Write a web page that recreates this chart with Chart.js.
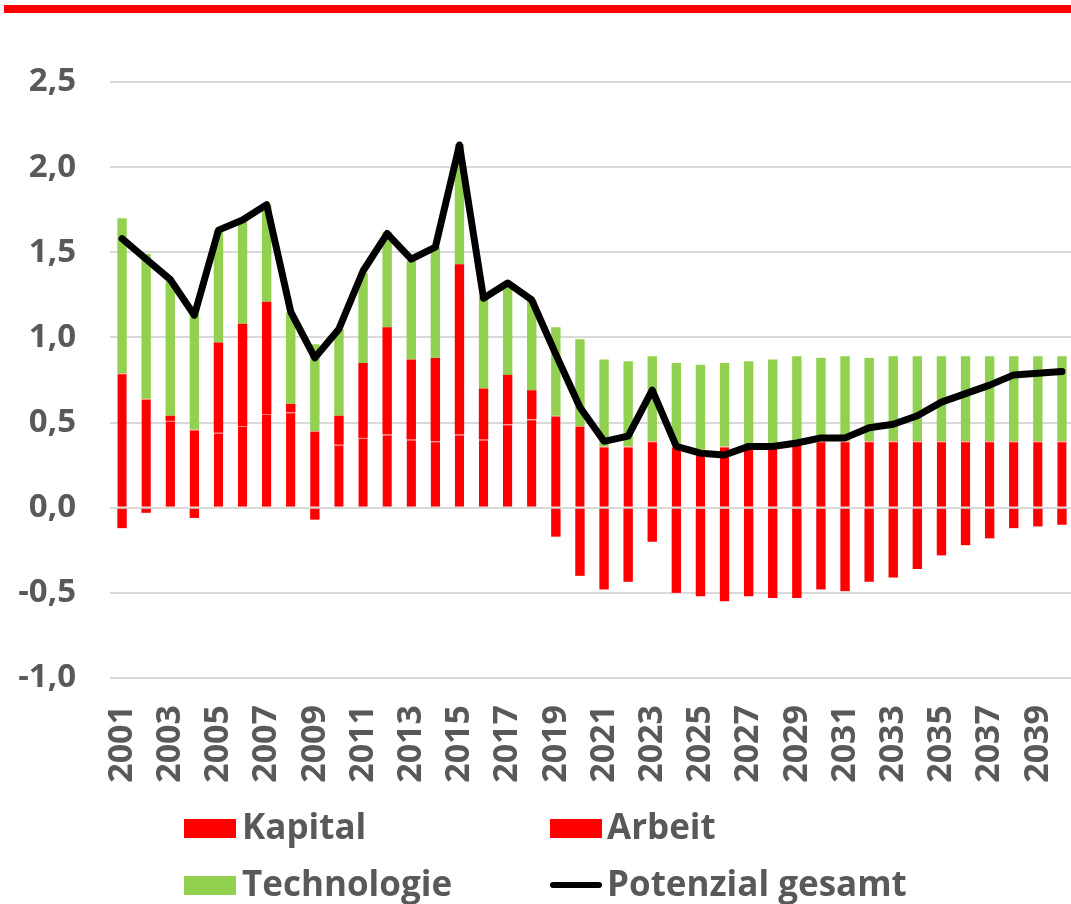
<!DOCTYPE html>
<html>
<head>
<meta charset="utf-8">
<script src="https://cdn.jsdelivr.net/npm/chart.js@4/dist/chart.umd.min.js"></script>
<style>
  html, body { margin: 0; padding: 0; background: #fff; overflow: hidden; width: 1071px; height: 904px; }
  #wrap { position: relative; width: 1071px; height: 904px; overflow: hidden; }
  #topbar { position: absolute; left: 4px; top: 5px; width: 1067px; height: 8px; background: #ff0000; }
  #chartbox { position: absolute; left: 0; top: 0; width: 1077px; height: 904px; }
  .lg { position: absolute; font-family: 'Open Sans', sans-serif; font-weight: bold; font-size: 35px; color: #595959; line-height: 1; white-space: nowrap; }
  .box { position: absolute; width: 52px; height: 19px; }
  .ln { position: absolute; width: 52px; height: 6px; background: #000; border-radius: 3px; }
</style>
</head>
<body>
<div id="wrap">
  <div id="topbar"></div>
  <div id="chartbox"><canvas id="c" width="1077" height="904"></canvas></div>
  <div class="box" style="left:184px; top:819px; background:#ff0000;"></div>
  <div class="lg" style="left:242px; top:808px;">Kapital</div>
  <div class="box" style="left:550px; top:819px; background:#ff0000;"></div>
  <div class="lg" style="left:607px; top:808px;">Arbeit</div>
  <div class="box" style="left:184px; top:876px; background:#92d050;"></div>
  <div class="lg" style="left:242px; top:865px;">Technologie</div>
  <div class="ln" style="left:550px; top:882px;"></div>
  <div class="lg" style="left:607px; top:865px;">Potenzial gesamt</div>
</div>
<script>
const years = ["2001","2002","2003","2004","2005","2006","2007","2008","2009","2010",
               "2011","2012","2013","2014","2015","2016","2017","2018","2019","2020",
               "2021","2022","2023","2024","2025","2026","2027","2028","2029","2030",
               "2031","2032","2033","2034","2035","2036","2037","2038","2039","2040"];

const kapital = [0.79, 0.64, 0.51, 0.46, 0.44, 0.48, 0.55, 0.56, 0.45, 0.37,
                 0.41, 0.43, 0.40, 0.39, 0.43, 0.40, 0.49, 0.52, 0.54, 0.48,
                 0.36, 0.36, 0.39, 0.36, 0.34, 0.36, 0.36, 0.37, 0.38, 0.39,
                 0.39, 0.39, 0.39, 0.39, 0.39, 0.39, 0.39, 0.39, 0.39, 0.39];

const arbeit = [-0.12, -0.03, 0.03, -0.06, 0.53, 0.60, 0.66, 0.05, -0.07, 0.17,
                0.44, 0.63, 0.47, 0.49, 1.00, 0.30, 0.29, 0.17, -0.17, -0.40,
                -0.48, -0.435, -0.20, -0.50, -0.52, -0.55, -0.52, -0.53, -0.53, -0.48,
                -0.49, -0.435, -0.41, -0.36, -0.28, -0.22, -0.18, -0.12, -0.11, -0.10];

const technologie = [0.91, 0.85, 0.79, 0.715, 0.66, 0.61, 0.57, 0.535, 0.51, 0.51,
                     0.53, 0.56, 0.58, 0.65, 0.705, 0.54, 0.52, 0.53, 0.52, 0.51,
                     0.51, 0.50, 0.50, 0.49, 0.50, 0.49, 0.50, 0.50, 0.51, 0.49,
                     0.50, 0.49, 0.50, 0.50, 0.50, 0.50, 0.50, 0.50, 0.50, 0.50];

const potenzial = [1.58, 1.46, 1.34, 1.13, 1.63, 1.69, 1.78, 1.15, 0.88, 1.05,
                   1.39, 1.61, 1.46, 1.53, 2.13, 1.23, 1.32, 1.22, 0.90, 0.59,
                   0.39, 0.42, 0.69, 0.36, 0.32, 0.31, 0.36, 0.36, 0.38, 0.41,
                   0.41, 0.47, 0.49, 0.54, 0.62, 0.67, 0.72, 0.78, 0.79, 0.80];

const yMin = -1.0, yMax = 2.5, yStep = 0.5;

const RED = '#ff0000', GREEN = '#92d050', GREY = '#595959';

new Chart(document.getElementById('c'), {
  type: 'bar',
  data: {
    labels: years,
    datasets: [
      { type: 'line', label: 'Potenzial gesamt', data: potenzial, stack: 'line', order: 0,
        borderColor: '#000', borderWidth: 7, pointRadius: 0, tension: 0, fill: false,
        borderCapStyle: 'round', borderJoinStyle: 'round' },
      { label: 'Kapital', data: kapital, stack: 'bars', order: 1, backgroundColor: RED,
        borderColor: '#ff8080', borderWidth: {top: 1, left: 0, right: 0, bottom: 0}, borderSkipped: false },
      { label: 'Arbeit', data: arbeit, stack: 'bars', order: 1, backgroundColor: RED, borderWidth: 0 },
      { label: 'Technologie', data: technologie, stack: 'bars', order: 1, backgroundColor: GREEN, borderWidth: 0 }
    ]
  },
  options: {
    responsive: false,
    animation: false,
    events: [],
    layout: { padding: { top: 82, right: 3, left: 0, bottom: 0 } },
    datasets: { bar: { categoryPercentage: 1.0, barPercentage: 0.39 } },
    plugins: { legend: { display: false }, tooltip: { enabled: false }, title: { display: false } },
    scales: {
      x: {
        stacked: true,
        grid: { display: false, drawTicks: false },
        border: { display: false },
        ticks: {
          autoSkip: false, maxRotation: 90, minRotation: 90, padding: 27,
          color: GREY, font: { family: "'Open Sans', sans-serif", weight: 'bold', size: 34 },
          callback: function(v, i) { return i % 2 === 0 ? years[i] : ''; }
        },
        afterFit: function(s) { s.height = 904 - 678; s.paddingLeft = 0; s.paddingRight = 0; }
      },
      y: {
        stacked: true,
        min: yMin, max: yMax,
        grid: { color: '#d9d9d9', lineWidth: 2, drawTicks: false },
        border: { display: false },
        ticks: {
          stepSize: yStep, padding: 34, color: GREY,
          font: { family: "'Open Sans', sans-serif", weight: 'bold', size: 33 },
          callback: function(v) { return v.toFixed(1).replace('.', ','); }
        },
        afterFit: function(s) { s.width = 110; s.paddingTop = 0; s.paddingBottom = 0; }
      }
    }
  }
});
</script>
</body>
</html>
